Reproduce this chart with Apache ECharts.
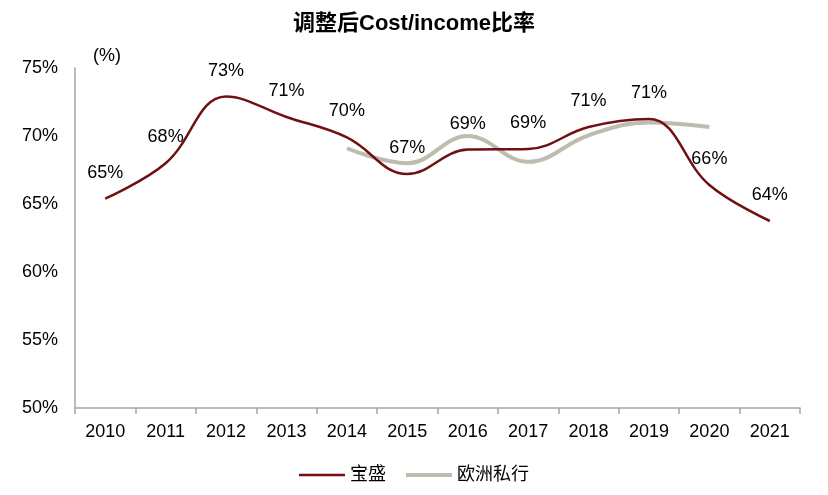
<!DOCTYPE html>
<html>
<head>
<meta charset="utf-8">
<script src="https://cdn.jsdelivr.net/npm/echarts@6/dist/echarts.min.js"></script>
<style>html,body{margin:0;padding:0;background:#fff}#c{width:828px;height:495px}</style>
</head>
<body>
<div id="c"></div>
<script>
const years = ['2010','2011','2012','2013','2014','2015','2016','2017','2018','2019','2020','2021'];
const baosheng = [65.4, 68.0, 72.9, 71.4, 69.9, 67.2, 69.0, 69.05, 70.66, 71.25, 66.4, 63.75];
const euroPrivate = [null, null, null, null, 69.1, 68.0, 70.0, 68.1, 70.05, 71.0, 70.66, null];
const yTicks = [50, 55, 60, 65, 70, 75];

const RED = '#701012', GRAY = '#BDBCAE';
const FONT = '"Liberation Sans", Arial, "Noto Sans CJK SC", sans-serif';
const chart = echarts.init(document.getElementById('c'), null, {renderer: 'canvas'});
chart.setOption({
  animation: false,
  backgroundColor: '#fff',
  title: {
    text: '调整后Cost/income比率',
    left: 'center', top: 8,
    textStyle: {fontFamily: FONT, fontSize: 22, fontWeight: 'bold', color: '#000'}
  },
  graphic: [{
    type: 'text', left: 93, top: 47,
    style: {text: '(%)', font: '18px ' + FONT, fill: '#000'}
  }],
  legend: {
    bottom: 6, left: 'center', itemWidth: 46, itemHeight: 10, itemGap: 20,
    textStyle: {fontFamily: FONT, fontSize: 18, color: '#000'},
    data: [
      {name: '宝盛', icon: 'path://M0,4 L46,4 L46,6.5 L0,6.5 Z', itemStyle: {color: RED, opacity: 1, borderWidth: 0}},
      {name: '欧洲私行', icon: 'path://M0,3 L46,3 L46,7 L0,7 Z', itemStyle: {color: GRAY, opacity: 1, borderWidth: 0}}
    ]
  },
  grid: {left: 75, right: 28, top: 68, bottom: 87},
  xAxis: {
    type: 'category', data: years, boundaryGap: true,
    axisLine: {lineStyle: {color: '#A6A6A6', width: 1.5}},
    axisTick: {show: true, length: 6, lineStyle: {color: '#A6A6A6', width: 1.5}},
    axisLabel: {fontFamily: FONT, fontSize: 18, color: '#000', margin: 15}
  },
  yAxis: {
    type: 'value', min: yTicks[0], max: yTicks[yTicks.length - 1], interval: 5,
    axisLine: {show: true, lineStyle: {color: '#A6A6A6', width: 1.5}},
    axisTick: {show: false},
    splitLine: {show: false},
    axisLabel: {fontFamily: FONT, fontSize: 18, color: '#000', margin: 17, formatter: v => v + '%'}
  },
  series: [
    {
      name: '宝盛', type: 'line', data: baosheng, smooth: 0.4, symbol: 'circle', symbolSize: 2,
      showSymbol: true, z: 3,
      lineStyle: {color: RED, width: 2.5}, itemStyle: {color: 'rgba(0,0,0,0)', borderWidth: 0},
      label: {show: true, position: 'top', distance: 16, fontFamily: FONT, fontSize: 18, color: '#000',
        formatter: p => Math.round(p.value) + '%'}
    },
    {
      name: '欧洲私行', type: 'line', data: euroPrivate, smooth: 0.4, symbol: 'none', z: 2,
      connectNulls: false,
      lineStyle: {color: GRAY, width: 4}, itemStyle: {color: GRAY}
    }
  ]
});
</script>
</body>
</html>
